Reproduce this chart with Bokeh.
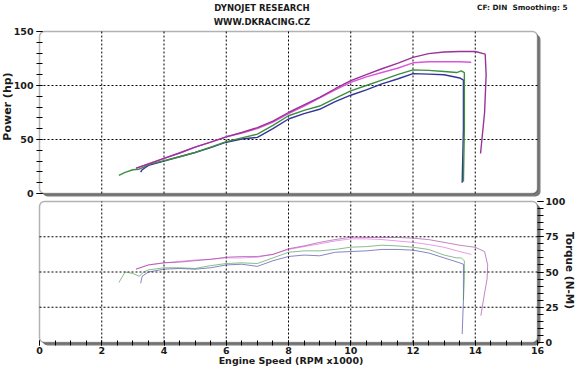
import math
from bokeh.plotting import figure
from bokeh.models import Range1d, LinearAxis, FixedTicker, BoxAnnotation
from bokeh.core.properties import value
from bokeh.embed import file_html
from bokeh.resources import INLINE

# ---------------- data ----------------
purple_rpm_p = [3.1, 3.5, 4, 4.5, 5, 5.5, 6, 6.5, 7, 7.5, 8, 8.5, 9, 9.5, 10, 10.5, 11, 11.5, 12, 12.5, 13, 13.5, 14, 14.32, 14.35, 14.3, 14.17]
purple_hp = [23.5, 27.5, 32.5, 37.5, 43, 47.5, 52.5, 56.5, 61, 67, 75, 82, 89, 97, 104.5, 110, 115.5, 120.5, 126, 129.5, 131, 131.5, 131.5, 129, 110, 75, 37]
purple_rpm_t = [3.1, 3.5, 4, 4.5, 5, 5.5, 6, 6.5, 7, 7.5, 8, 8.5, 9, 9.5, 10, 10.5, 11, 11.5, 12, 12.5, 13, 13.5, 14, 14.3, 14.4, 14.38, 14.3, 14.18]
purple_tq = [52, 55, 56.5, 57, 58, 59, 60.5, 61, 61, 62.5, 66.5, 68.5, 71, 73, 74.7, 74.5, 74.5, 74.5, 74, 73, 71, 69, 67.5, 64.5, 55, 45, 35, 19]

pink_rpm = [3.1, 3.5, 4, 4.5, 5, 5.5, 6, 6.5, 7, 7.5, 8, 8.5, 9, 9.5, 10, 10.5, 11, 11.5, 12, 12.5, 13, 13.5, 13.87]
pink_hp = [23, 27.5, 32.5, 37.5, 43, 47.5, 52.5, 56, 60, 66, 74, 81, 88.5, 96, 103, 108, 112, 116, 121, 122, 122, 122, 121.5]
pink_tq = [52, 55, 56.5, 57.5, 58.5, 59, 60, 60, 60.5, 62.5, 66, 68, 70, 72, 73.5, 73.5, 73, 72, 71, 69.5, 67.5, 64.5, 62.5]

green_rpm = [2.55, 2.75, 3, 3.2, 3.35, 3.5, 4, 4.5, 5, 5.5, 6, 6.5, 7, 7.5, 8, 8.5, 9, 9.5, 10, 10.5, 11, 11.5, 12, 12.5, 13, 13.4, 13.55, 13.65, 13.65, 13.62]
green_hp = [16.7, 19.5, 22, 22.5, 24.5, 27, 30.5, 34, 38, 43, 48, 51.5, 55, 63, 72, 77, 81, 88, 95, 100, 105, 110, 114.5, 114, 113, 112, 113.5, 112, 60, 11]
green_tq = [42.5, 50, 49, 47, 50, 51.5, 53, 53, 52.5, 54.5, 56, 56.5, 56, 60, 64, 65, 65, 66, 67.6, 68, 69, 68.5, 67.6, 66, 62, 60, 60, 58, 45, 30]

blue_rpm = [3.25, 3.3, 3.5, 4, 4.5, 5, 5.5, 6, 6.5, 7, 7.5, 8, 8.5, 9, 9.5, 10, 10.5, 11, 11.5, 12, 12.5, 13, 13.5, 13.62, 13.62, 13.58]
blue_hp = [19.7, 22, 26, 30, 34, 38, 42.5, 47.5, 50.5, 52, 60, 69, 74, 78, 85, 91, 96, 101.5, 106, 111, 110.5, 110, 107, 105, 60, 10]
blue_tq = [42, 47, 50, 52, 52.5, 52, 53, 55, 55.5, 54, 58, 61, 62, 61.5, 64, 64.5, 65, 66, 66, 65.5, 63.5, 60, 56.5, 55.5, 30, 6]

x_ticks = [0, 2, 4, 6, 8, 10, 12, 14, 16]
power_ticks = [0, 50, 100, 150]
torque_ticks = [0, 25, 50, 75, 100]
grid_x = [2, 4, 6, 8, 10, 12, 14]
grid_power = [50, 100]
grid_torque = [25, 50, 75]

title1 = "DYNOJET RESEARCH"
title2 = "WWW.DKRACING.CZ"
title3 = "CF: DIN\u00a0\u00a0Smoothing: 5"
x_title = "Engine Speed (RPM x1000)"
power_title = "Power (hp)"
torque_title = "Torque (N-M)"

# ---------------- layout (pixels) ----------------
W, H = 575, 368
X0, X1 = 39.0, 537.0          # panel left/right (0 and 16 krpm)
P_TOP, P_BOT = 31.0, 193.0    # power panel (150 / 0 hp)
T_TOP, T_BOT = 201.0, 342.0   # torque panel (100 / 0 N-m)
SH = 3.0                      # shadow offset

kx = (X1 - X0) / 16.0
sp = (P_BOT - P_TOP) / 150.0
st = (T_BOT - T_TOP) / 100.0


def px(x):
    return (x - X0) / kx


FONT = "DejaVu Sans"
TXT = "#1a1a1a"
C_PURPLE, C_PINK, C_GREEN, C_BLUE = "#993399", "#dd55dd", "#3d8f3d", "#33339c"
SHADOW = "#7a7a7a"
DASH = "2 2"

p = figure(width=W, height=H, x_range=Range1d(px(0), px(W)), y_range=Range1d(H, 0),
           output_backend="svg", toolbar_location=None, x_axis_location=None,
           y_axis_location=None, min_border=0,
           background_fill_color="white", border_fill_color="white")
p.outline_line_color = None
p.grid.visible = False
p.extra_y_ranges = {
    "power": Range1d(-(H - P_BOT) / sp, 150 + P_TOP / sp),
    "torque": Range1d(-(H - T_BOT) / st, 100 + T_TOP / st),
}


def panel_box(top_val, scale, rng_name):
    dx = SH / kx
    dy = SH / scale
    p.add_layout(BoxAnnotation(left=dx, right=16 + dx, bottom=-dy, top=top_val - dy,
                               y_range_name=rng_name, fill_color=SHADOW, fill_alpha=1,
                               line_color=None, border_radius=5, level="underlay"))
    p.add_layout(BoxAnnotation(left=0, right=16, bottom=0, top=top_val, y_range_name=rng_name,
                               fill_color="white", fill_alpha=1, line_color="black",
                               line_width=1.5, border_radius=5, level="underlay"))


panel_box(150, sp, "power")
panel_box(100, st, "torque")

# grid lines
n = len(grid_x)
p.segment(x0=grid_x, x1=grid_x, y0=[0] * n, y1=[150] * n, y_range_name="power",
          line_color="black", line_dash=DASH, line_width=1)
p.segment(x0=[0] * len(grid_power), x1=[16] * len(grid_power), y0=grid_power, y1=grid_power,
          y_range_name="power", line_color="black", line_dash=DASH, line_width=1)
p.segment(x0=grid_x, x1=grid_x, y0=[0] * n, y1=[100] * n, y_range_name="torque",
          line_color="black", line_dash=DASH, line_width=1)
p.segment(x0=[0] * len(grid_torque), x1=[16] * len(grid_torque), y0=grid_torque, y1=grid_torque,
          y_range_name="torque", line_color="black", line_dash=DASH, line_width=1)

# power curves
p.line(blue_rpm, blue_hp, y_range_name="power", line_color=C_BLUE, line_width=1.4)
p.line(green_rpm, green_hp, y_range_name="power", line_color=C_GREEN, line_width=1.4)
p.line(pink_rpm, pink_hp, y_range_name="power", line_color=C_PINK, line_width=1.4)
p.line(purple_rpm_p, purple_hp, y_range_name="power", line_color=C_PURPLE, line_width=1.4)

# torque curves
p.line(blue_rpm, blue_tq, y_range_name="torque", line_color=C_BLUE, line_alpha=0.6, line_width=1)
p.line(green_rpm, green_tq, y_range_name="torque", line_color=C_GREEN, line_alpha=0.6, line_width=1)
p.line(pink_rpm, pink_tq, y_range_name="torque", line_color=C_PINK, line_alpha=0.6, line_width=1)
p.line(purple_rpm_t, purple_tq, y_range_name="torque", line_color=C_PURPLE, line_alpha=0.6, line_width=1)


def style_axis(ax):
    ax.axis_line_color = None
    ax.major_tick_line_color = "black"
    ax.minor_tick_line_color = "black"
    ax.major_label_text_font = FONT
    ax.major_label_text_font_style = "bold"
    ax.major_label_text_font_size = "9.5px"
    ax.major_label_text_color = TXT


# left power axis at the panel edge
ya = LinearAxis(y_range_name="power", fixed_location=0)
style_axis(ya)
ya.ticker = FixedTicker(ticks=power_ticks, minor_ticks=list(range(0, 151, 10)))
ya.major_tick_in = 3
ya.major_tick_out = 3
ya.minor_tick_in = 3
ya.minor_tick_out = 3
ya.major_label_standoff = 3
p.add_layout(ya, "left")

# right torque axis
ra = LinearAxis(y_range_name="torque", fixed_location=16)
style_axis(ra)
ra.ticker = FixedTicker(ticks=torque_ticks, minor_ticks=list(range(0, 101, 5)))
ra.major_tick_in = 0
ra.major_tick_out = 6
ra.minor_tick_in = 0
ra.minor_tick_out = 6
ra.major_label_standoff = 2
p.add_layout(ra, "right")

# bottom rpm axis (on the shadow edge of the torque panel)
xa = LinearAxis(fixed_location=T_BOT + SH)
style_axis(xa)
xa.ticker = FixedTicker(ticks=x_ticks, minor_ticks=[i * 0.5 for i in range(33)])
xa.major_tick_in = 5
xa.major_tick_out = 0
xa.minor_tick_in = 5
xa.minor_tick_out = 0
xa.major_label_standoff = 1
p.add_layout(xa, "below")

# texts
p.text(x=[px(261.5), px(261.5)], y=[7, 21], text=[title1, title2], text_align="center",
       text_baseline="middle", text_font=value(FONT), text_font_style="bold",
       text_font_size="8.5px", text_color=TXT)
p.text(x=[px(567)], y=[7], text=[title3], text_align="right", text_baseline="middle",
       text_font=value(FONT), text_font_style="bold", text_font_size="7.3px", text_color=TXT)
p.text(x=[px(290.5)], y=[360], text=[x_title], text_align="center", text_baseline="middle",
       text_font=value(FONT), text_font_style="bold", text_font_size="9.5px", text_color=TXT)
p.text(x=[px(7)], y=[106], text=[power_title], angle=math.pi / 2, text_align="center",
       text_baseline="middle", text_font=value(FONT), text_font_style="bold",
       text_font_size="11px", text_color=TXT)
p.text(x=[px(569)], y=[270], text=[torque_title], angle=-math.pi / 2, text_align="center",
       text_baseline="middle", text_font=value(FONT), text_font_style="bold",
       text_font_size="10.5px", text_color=TXT)

open("out.html", "w").write(file_html(p, INLINE))
